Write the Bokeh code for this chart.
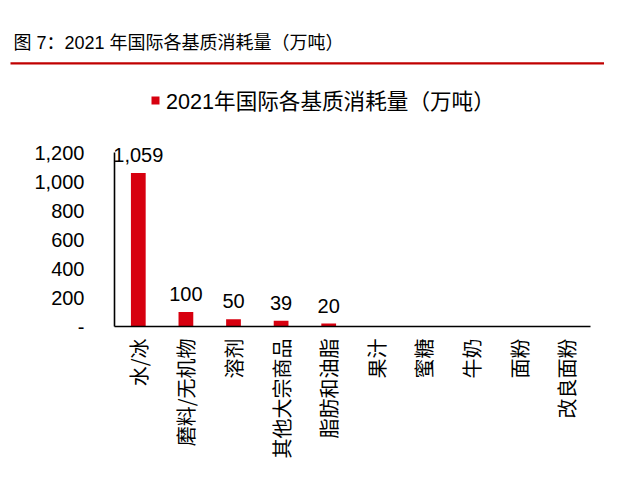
import math
from bokeh.plotting import figure
from bokeh.models import (ColumnDataSource, LabelSet, Legend, LegendItem, FixedTicker,
                          Range1d, Title)
from bokeh.core.properties import value
from bokeh.embed import file_html
from bokeh.resources import INLINE

categories = ["水/冰", "磨料/无机物", "溶剂", "其他大宗商品", "脂肪和油脂",
              "果汁", "蜜糖", "牛奶", "面粉", "改良面粉"]
values = [1059, 100, 50, 39, 20, 0, 0, 0, 0, 0]
value_labels = ["1,059", "100", "50", "39", "20", "", "", "", "", ""]
y_ticks = [0, 200, 400, 600, 800, 1000, 1200]
y_tick_labels = ["-", "200", "400", "600", "800", "1,000", "1,200"]
series_name = "2021年国际各基质消耗量（万吨）"
title_text = "图 7：2021 年国际各基质消耗量（万吨）"

RED = "#D7000F"
CJK = "Noto Sans CJK SC"
LAT = "'Liberation Sans', 'Noto Sans CJK SC'"

W, H = 604, 476
F_LEFT, F_RIGHT, F_TOP, F_BOTTOM = 114, 590, 64, 326
px_per_unit = 29 / 200
y_end = 1200 + (152 - F_TOP) / px_per_unit

src = ColumnDataSource(dict(cat=categories, val=values, lab=value_labels))

p = figure(width=W, height=H, x_range=categories, y_range=Range1d(0, y_end),
           output_backend="svg", toolbar_location=None,
           min_border_left=F_LEFT, min_border_right=W - F_RIGHT, min_border_top=F_TOP,
           min_border_bottom=H - F_BOTTOM)
p.outline_line_color = None
p.xgrid.grid_line_color = None
p.ygrid.grid_line_color = None

# red rule under the title: an empty title box filled red
rule = Title(text=" ", align="left", offset=-(F_LEFT - 10), text_font_size="2px",
             padding=((W - 10) // 2, 0), background_fill_color="#C00000",
             border_line_color=None, standoff=0)
p.add_layout(rule, "above")

# title
p.title.text = title_text
p.title.align = "left"
p.title.offset = -(F_LEFT - 13)
p.title.text_font = LAT
p.title.text_font_size = "18px"
p.title.text_font_style = "normal"
p.title.text_color = "#000000"
p.title.standoff = 15

r = p.vbar(x="cat", top="val", width=0.31, source=src, fill_color=RED, line_color=None)

p.add_layout(LabelSet(x="cat", y="val", text="lab", source=src, text_align="center",
                      text_baseline="bottom", y_offset=11, text_font=value(LAT),
                      text_font_size="20px", text_color="#000000"))

xax = p.below[0]
yax = p.left[0]
for ax in (xax, yax):
    ax.axis_line_color = "#000000"
    ax.axis_line_width = 1.6
    ax.major_tick_line_color = None
    ax.minor_tick_line_color = None
    ax.major_label_text_color = "#000000"

yax.bounds = (0, 1200)
yax.ticker = FixedTicker(ticks=y_ticks)
yax.major_label_overrides = {t: l for t, l in zip(y_ticks, y_tick_labels)}
yax.major_label_text_font = LAT
yax.major_label_text_font_size = "20px"
yax.major_label_standoff = 24

xax.major_label_orientation = math.pi / 2
xax.major_label_text_font = CJK
xax.major_label_text_font_size = "20px"
xax.major_label_standoff = 6

legend = Legend(items=[LegendItem(label=series_name, renderers=[r])],
                location=(36, F_BOTTOM - 115), orientation="horizontal",
                padding=0, margin=0, border_line_color=None,
                background_fill_alpha=0, glyph_width=10, glyph_height=10,
                label_standoff=6, label_text_font=LAT, label_text_font_size="21.6px",
                label_text_color="#000000")
p.add_layout(legend, "center")

open("out.html", "w").write(file_html(p, INLINE))
